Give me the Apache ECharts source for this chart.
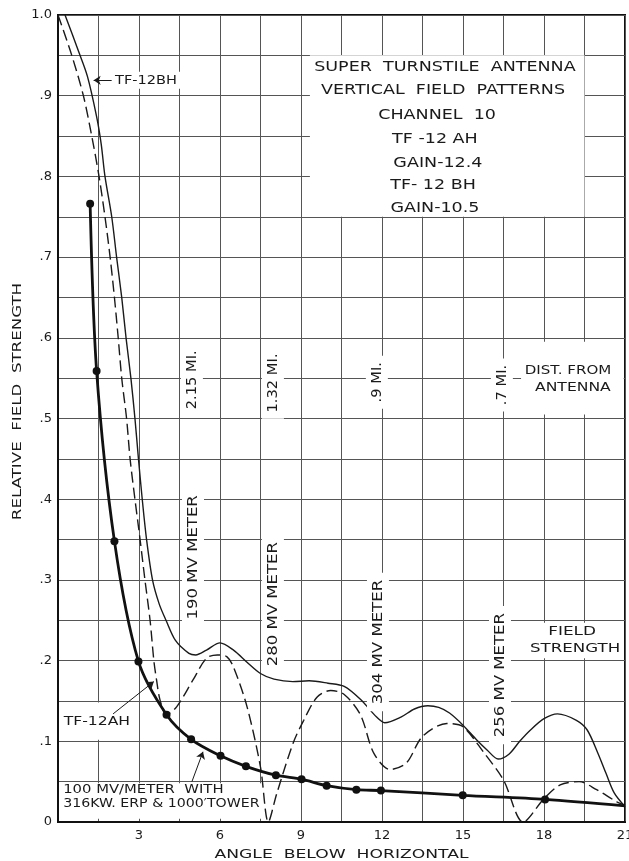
<!DOCTYPE html>
<html>
<head>
<meta charset="utf-8">
<script src="https://cdn.jsdelivr.net/npm/echarts@6/dist/echarts.min.js"></script>
<style>
html, body { margin: 0; padding: 0; background: #fff; }
#chart { width: 629px; height: 861px; }
</style>
</head>
<body>
<div id="chart"></div>
<script>
// TF-12BH pattern (thin solid)
var bhAngle = [0.26, 0.75, 1.09, 1.43, 1.60, 1.74, 1.99, 2.17, 2.36, 2.52, 2.70, 2.85, 2.98, 3.12, 3.28, 3.50,
    3.75, 4.00, 4.35, 4.85, 5.10, 5.50, 6.00, 6.50, 7.00, 7.50, 8.00, 8.70, 9.30, 10.00, 10.60,
    11.20, 11.80, 12.10, 12.70, 13.20, 13.70, 14.10, 14.50, 15.00, 15.50, 15.90, 16.30, 16.70, 17.10,
    17.50, 18.00, 18.50, 19.20, 19.60, 20.00, 20.30, 20.60, 21.00];
var bhField = [1.000, 0.956, 0.924, 0.874, 0.840, 0.800, 0.750, 0.700, 0.650, 0.600, 0.550, 0.500, 0.450, 0.400, 0.350, 0.300,
    0.270, 0.250, 0.225, 0.209, 0.207, 0.213, 0.222, 0.213, 0.198, 0.184, 0.177, 0.174, 0.175, 0.172, 0.168,
    0.152, 0.130, 0.123, 0.130, 0.140, 0.144, 0.142, 0.135, 0.120, 0.102, 0.089, 0.078, 0.084, 0.100,
    0.114, 0.128, 0.134, 0.126, 0.114, 0.085, 0.060, 0.036, 0.019];

// TF-12AH pattern (dashed)
var ahAngle = [0, 0.51, 0.94, 1.25, 1.52, 1.74, 1.93, 2.09, 2.23, 2.36, 2.54, 2.67, 2.85, 3.04, 3.22,
    3.41, 3.55, 3.65, 3.78, 4.02, 4.40, 5.00, 5.50, 5.90, 6.25, 6.50, 7.00, 7.50, 7.79, 8.10,
    8.70, 9.10, 9.60, 10.10, 10.60, 11.20, 11.70, 12.30, 12.90, 13.50, 14.40, 15.00, 15.75, 16.50,
    17.23, 18.00, 18.60, 19.30, 19.95, 20.70, 21.00];
var ahField = [1.000, 0.950, 0.900, 0.850, 0.800, 0.750, 0.700, 0.650, 0.600, 0.550, 0.500, 0.450, 0.400, 0.350, 0.300,
    0.250, 0.200, 0.176, 0.151, 0.133, 0.143, 0.176, 0.203, 0.207, 0.205, 0.192, 0.143, 0.068, 0.000, 0.035,
    0.097, 0.126, 0.155, 0.163, 0.158, 0.133, 0.085, 0.065, 0.073, 0.106, 0.122, 0.118, 0.087, 0.052,
    0.000, 0.029, 0.046, 0.050, 0.040, 0.025, 0.021];

// 100 mV/meter field strength (bold with dots)
var fsAngle = [1.19, 1.43, 2.09, 2.98, 4.02, 4.93, 6.02, 6.96, 8.07, 9.02, 9.95, 11.05, 11.96, 14.99, 18.04, 21.00];
var fsField = [0.766, 0.559, 0.348, 0.199, 0.133, 0.1025, 0.082, 0.069, 0.058, 0.053, 0.045, 0.040, 0.039, 0.033, 0.028, 0.020];

var xTickLabels = ['3', '6', '9', '12', '15', '18', '21'];
var yTickLabels = ['0', '.1', '.2', '.3', '.4', '.5', '.6', '.7', '.8', '.9', '1.0'];

// annotations (data coordinates)
var titleLines = ['SUPER  TURNSTILE  ANTENNA', 'VERTICAL  FIELD  PATTERNS', 'CHANNEL  10', 'TF -12 AH', 'GAIN-12.4', 'TF- 12 BH', 'GAIN-10.5'];
var titleX = [14.33, 14.26, 14.04, 13.96, 14.07, 13.89, 13.96];
var titleY = [0.9356, 0.907, 0.876, 0.846, 0.8166, 0.789, 0.761];
var distLabels = ['2.15 MI.', '1.32 MI.', '.9 MI.', '.7 MI.'];
var distX = [4.96, 7.96, 11.81, 16.44];
var distY = [0.548, 0.544, 0.545, 0.5415];
var meterLabels = ['190 MV METER', '280 MV METER', '304 MV METER', '256 MV METER'];
var meterX = [5.0, 7.96, 11.85, 16.37];
var meterY = [0.328, 0.27, 0.223, 0.182];
var boxes = [[9.33, 0.75, 19.5, 0.95], [17.15, 0.505, 20.95, 0.595], [16.74, 0.203, 20.95, 0.247],
    [0.05, 0.102, 2.85, 0.148], [0.05, 0.004, 7.55, 0.048]];
var arrows = [[[2.04, 0.134], [3.55, 0.174]], [[4.96, 0.05], [5.37, 0.087]], [[2.04, 0.919], [1.32, 0.919]]];

var font = '"DejaVu Sans", sans-serif';
var ink = '#1a1a1a';

function zip(xs, ys) {
    return xs.map(function (x, i) { return [x, ys[i]]; });
}

var fsData = zip(fsAngle, fsField).map(function (p, i) {
    return i === fsAngle.length - 1 ? { value: p, symbol: 'none' } : { value: p };
});

var chart = echarts.init(document.getElementById('chart'));
var option = {
    backgroundColor: '#fff',
    animation: false,
    grid: {
        left: 58, right: 4, top: 15, bottom: 39,
        outerBoundsMode: 'none',
        show: true, borderColor: '#111', borderWidth: 2
    },
    xAxis: {
        type: 'value', min: 0, max: 21, interval: 1.5,
        axisLine: { lineStyle: { color: '#111', width: 2 } },
        axisTick: { show: false },
        axisLabel: {
            fontFamily: font, fontSize: 13, color: ink, margin: 7,
            formatter: function (v) {
                var k = Math.round(v / 1.5);
                if (k % 2 !== 0 || k === 0) return '';
                return xTickLabels[k / 2 - 1];
            }
        },
        splitLine: { lineStyle: { color: '#555', width: 1 } }
    },
    yAxis: {
        type: 'value', min: 0, max: 1, interval: 0.05,
        axisLine: { lineStyle: { color: '#111', width: 2 } },
        axisTick: { show: false },
        axisLabel: {
            fontFamily: font, fontSize: 13, color: ink, margin: 6,
            formatter: function (v) {
                var k = Math.round(v * 20);
                if (k % 2 !== 0) return '';
                return yTickLabels[k / 2];
            }
        },
        splitLine: { lineStyle: { color: '#555', width: 1 } }
    },
    series: [{
        name: 'TF-12BH',
        type: 'line',
        data: zip(bhAngle, bhField),
        showSymbol: false,
        smooth: 0.3,
        lineStyle: { color: ink, width: 1.4 }
    }, {
        name: 'TF-12AH',
        type: 'line',
        data: zip(ahAngle, ahField),
        showSymbol: false,
        smooth: 0.3,
        lineStyle: { color: ink, width: 1.4, type: [11, 5] }
    }, {
        name: '100 MV/METER',
        type: 'line',
        data: fsData,
        symbol: 'circle',
        symbolSize: 8,
        smooth: 0.3,
        itemStyle: { color: '#111' },
        lineStyle: { color: '#111', width: 2.8 },
        markLine: {
            silent: true,
            symbol: ['none', 'arrow'],
            symbolSize: 7,
            label: { show: false },
            lineStyle: { color: ink, width: 1, type: 'solid' },
            data: arrows.map(function (a) {
                return [{ coord: a[0] }, { coord: a[1] }];
            })
        }
    }]
};
chart.setOption(option);

function at(x, y) {
    return chart.convertToPixel({ gridIndex: 0 }, [x, y]);
}
function place(str, p, o) {
    o = o || {};
    var st = {
        text: str, x: 0, y: 0, fill: ink,
        font: (o.size || 13) + 'px ' + font,
        align: o.align || 'center', textAlign: o.align || 'center',
        verticalAlign: 'middle', textVerticalAlign: 'middle'
    };
    if (o.bg) {
        st.backgroundColor = '#fff';
        st.padding = o.pad || [3, 4];
    }
    return { type: 'text', x: p[0], y: p[1], rotation: o.rot || 0, scaleX: o.sx || 1, z: 6, style: st };
}
function text(str, x, y, o) {
    return place(str, at(x, y), o);
}

var g = [];
boxes.forEach(function (b) {
    var a = at(b[0], b[3]), c = at(b[2], b[1]);
    g.push({ type: 'rect', z: 1, shape: { x: a[0], y: a[1], width: c[0] - a[0], height: c[1] - a[1] }, style: { fill: '#fff' } });
});
titleLines.forEach(function (t, i) {
    g.push(text(t, titleX[i], titleY[i], { size: 14, sx: 1.25 }));
});
distLabels.forEach(function (t, i) {
    g.push(text(t, distX[i], distY[i], { size: 14, sx: 1.05, rot: Math.PI / 2, bg: true, pad: [4, 6] }));
});
meterLabels.forEach(function (t, i) {
    g.push(text(t, meterX[i], meterY[i], { size: 14, sx: 1.18, rot: Math.PI / 2, bg: true, pad: [4, 6] }));
});
g.push(text('DIST. FROM', 18.89, 0.559, { size: 13, sx: 1.16 }));
g.push(text('ANTENNA', 19.07, 0.538, { size: 13, sx: 1.2 }));
g.push(text('FIELD', 19.04, 0.2354, { size: 13, sx: 1.3 }));
g.push(text('STRENGTH', 19.15, 0.2144, { size: 13, sx: 1.28 }));
g.push(text('TF-12AH', 1.44, 0.124, { size: 13, sx: 1.2 }));
g.push(text('TF-12BH', 3.26, 0.919, { size: 13, sx: 1.12, bg: true, pad: [2, 3] }));
g.push(text('100 MV/METER  WITH', 0.19, 0.0397, { size: 13, sx: 1.14, align: 'left' }));
g.push(text('316KW. ERP & 1000\u2032TOWER', 0.19, 0.0223, { size: 12, sx: 1.18, align: 'left' }));

// axis titles
var org = at(0, 0), end = at(21, 1);
g.push(place('ANGLE  BELOW  HORIZONTAL', [(org[0] + end[0]) / 2, org[1] + 33], { size: 13, sx: 1.32 }));
g.push(place('RELATIVE  FIELD  STRENGTH', [18, (org[1] + end[1]) / 2 - 17], { size: 13, sx: 1.28, rot: Math.PI / 2 }));

chart.setOption({ graphic: { elements: g } });
</script>
</body>
</html>
